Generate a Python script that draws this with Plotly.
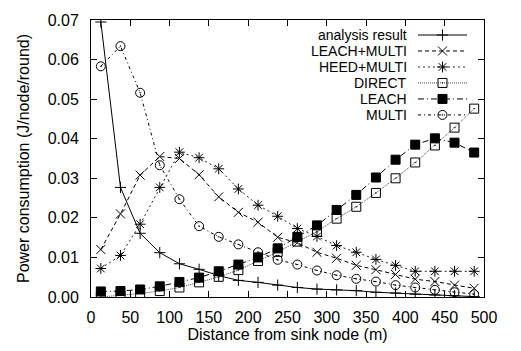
import plotly.graph_objects as go

# distance of each node group from the sink (m)
distance = [12.5 + 25 * i for i in range(20)]

analysis_result = [0.0695, 0.0277, 0.0161, 0.0112, 0.0084, 0.0070, 0.0054, 0.0042, 0.0037, 0.0030,
                   0.0024, 0.0020, 0.0018, 0.0016, 0.0012, 0.0010, 0.0007, 0.0005, 0.0003, 0.0001]
leach_multi = [0.0120, 0.0210, 0.0308, 0.0355, 0.0350, 0.0309, 0.0253, 0.0214, 0.0189, 0.0151,
               0.0137, 0.0113, 0.0098, 0.0080, 0.0069, 0.0057, 0.0045, 0.0039, 0.0030, 0.0022]
heed_multi = [0.0072, 0.0105, 0.0184, 0.0277, 0.0366, 0.0352, 0.0324, 0.0273, 0.0232, 0.0204,
              0.0173, 0.0153, 0.0130, 0.0113, 0.0095, 0.0080, 0.0065, 0.0065, 0.0065, 0.0065]
direct = [0.0000, 0.0004, 0.0009, 0.0015, 0.0024, 0.0037, 0.0051, 0.0068, 0.0091, 0.0114,
          0.0140, 0.0165, 0.0198, 0.0228, 0.0263, 0.0300, 0.0340, 0.0383, 0.0428, 0.0476]
leach = [0.0014, 0.0015, 0.0019, 0.0027, 0.0038, 0.0049, 0.0065, 0.0082, 0.0100, 0.0123,
         0.0152, 0.0181, 0.0220, 0.0258, 0.0302, 0.0347, 0.0385, 0.0401, 0.0390, 0.0365]
multi = [0.0583, 0.0634, 0.0516, 0.0333, 0.0247, 0.0179, 0.0152, 0.0133, 0.0113, 0.0094,
         0.0082, 0.0067, 0.0055, 0.0046, 0.0039, 0.0030, 0.0024, 0.0018, 0.0012, 0.0007]

series_names = ["analysis result", "LEACH+MULTI", "HEED+MULTI", "DIRECT", "LEACH", "MULTI"]
series_values = [analysis_result, leach_multi, heed_multi, direct, leach, multi]

x_ticks = [0, 50, 100, 150, 200, 250, 300, 350, 400, 450, 500]
y_ticks = [0.00, 0.01, 0.02, 0.03, 0.04, 0.05, 0.06, 0.07]

FONT = "Liberation Sans, Arial, sans-serif"
FS = 16
KEY_FS = 14

styles = [
    dict(dash="solid", color="#000000", symbol="cross-thin", size=8),
    dict(dash="4px,3px", color="#000000", symbol="x-thin", size=9),
    dict(dash="2px,3px", color="#222222", symbol="asterisk-open", size=9),
    dict(dash="1px,1px", color="#444444", symbol="square-open-dot", size=9),
    dict(dash="6px,3px,1px,3px", color="#000000", symbol="square", size=9),
    dict(dash="3px,3px,1px,3px", color="#000000", symbol="circle-open-dot", size=9),
]

# plot area in pixels
W, H = 521, 351
L, R, T, B = 91, 37, 14, 51
PW, PH = W - L - R, H - T - B

fig = go.Figure()

for name, vals, st in zip(series_names, series_values, styles):
    fig.add_trace(go.Scatter(
        x=distance, y=vals, name=name, mode="lines+markers",
        line=dict(color=st["color"], width=1, dash=st["dash"]),
        marker=dict(symbol=st["symbol"], size=st["size"], color="#000000",
                    line=dict(color="#000000", width=1)),
        showlegend=False,
    ))

# key drawn inside the frame: label on the left, sample line on the right
text_right = 408 - L
line_x0, line_x1 = 418 - L, 467 - L
row_top, row_step = 29.5 - T, 16.5
for k, (name, st) in enumerate(zip(series_names, styles)):
    yy = PH - (row_top + row_step * k)
    fig.add_trace(go.Scatter(
        x=[line_x0, (line_x0 + line_x1) / 2, line_x1], y=[yy, yy, yy],
        mode="lines", xaxis="x2", yaxis="y2", showlegend=False, hoverinfo="skip",
        line=dict(color=st["color"], width=1, dash=st["dash"]),
    ))
    fig.add_trace(go.Scatter(
        x=[(line_x0 + line_x1) / 2], y=[yy],
        mode="markers", xaxis="x2", yaxis="y2", showlegend=False, hoverinfo="skip",
        marker=dict(symbol=st["symbol"], size=st["size"], color="#000000",
                    line=dict(color="#000000", width=1)),
    ))
    fig.add_annotation(
        x=text_right, y=yy, xref="x2", yref="y2", text=name, showarrow=False,
        xanchor="right", yanchor="middle", borderpad=0,
        font=dict(family=FONT, size=KEY_FS, color="#000000"),
    )

axis_common = dict(
    showline=True, linecolor="#000000", linewidth=1, mirror="ticks",
    ticks="inside", ticklen=6, tickwidth=1, tickcolor="#000000",
    showgrid=False, zeroline=False,
    tickfont=dict(family=FONT, size=FS, color="#000000"),
)

fig.update_layout(
    width=W, height=H,
    margin=dict(l=L, r=R, t=T, b=B, pad=0),
    paper_bgcolor="#ffffff", plot_bgcolor="#ffffff",
    font=dict(family=FONT, size=FS, color="#000000"),
    xaxis=dict(range=[0, 500], tickvals=x_ticks, ticktext=[str(v) for v in x_ticks],
               ticklabelstandoff=6,
               title=dict(text="Distance from sink node (m)", standoff=2,
                          font=dict(family=FONT, size=FS)),
               **axis_common),
    yaxis=dict(range=[0, 0.07], tickvals=y_ticks, ticktext=[f"{v:.2f}" for v in y_ticks],
               ticklabelstandoff=8,
               title=dict(text="Power consumption (J/node/round)", standoff=14,
                          font=dict(family=FONT, size=FS)),
               **axis_common),
    xaxis2=dict(overlaying="x", range=[0, PW], visible=False, fixedrange=True),
    yaxis2=dict(overlaying="y", range=[0, PH], visible=False, fixedrange=True),
)

fig.write_html("out.html")
